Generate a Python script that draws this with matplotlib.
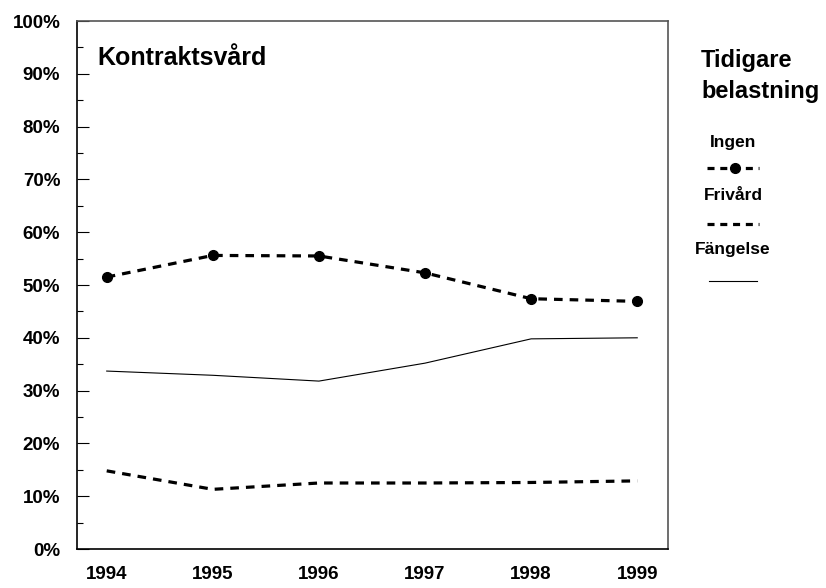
import matplotlib.pyplot as plt
from matplotlib.ticker import MultipleLocator, PercentFormatter

plt.rcParams["font.family"] = ["Liberation Sans", "DejaVu Sans"]
plt.rcParams["font.weight"] = "bold"

YEARS = [1994, 1995, 1996, 1997, 1998, 1999]
INGEN = [51.5, 55.6, 55.5, 52.3, 47.4, 46.9]
FRIVARD = [14.8, 11.3, 12.5, 12.5, 12.6, 12.9]
FANGELSE = [33.7, 32.9, 31.8, 35.2, 39.8, 40.0]

TITLE = "Kontraktsvård"
LEGEND_TITLE = "Tidigare\nbelastning"
LABELS = ["Ingen", "Frivård", "Fängelse"]

fig = plt.figure(figsize=(8.26, 5.88), dpi=100)
ax = fig.add_axes([77 / 826, 1 - 549 / 588, 591 / 826, 528 / 588])

dash = (0, (2.7, 2.2))
ax.plot(YEARS, INGEN, color="black", linewidth=2.3, linestyle=dash,
        dash_capstyle="butt", marker="o", markersize=7)
ax.plot(YEARS, FRIVARD, color="black", linewidth=2.3, linestyle=dash,
        dash_capstyle="butt")
ax.plot(YEARS, FANGELSE, color="black", linewidth=0.8)

ax.set_xlim(1993.72, 1999.29)
ax.set_ylim(0, 100)
ax.set_xticks(YEARS)
ax.yaxis.set_major_locator(MultipleLocator(10))
ax.yaxis.set_minor_locator(MultipleLocator(5))
ax.yaxis.set_major_formatter(PercentFormatter(decimals=0))

ax.tick_params(axis="x", length=0, pad=12, labelsize=13.5)
ax.tick_params(axis="y", which="major", direction="in", length=8.6,
               width=0.8, pad=12, labelsize=13.5)
ax.tick_params(axis="y", which="minor", direction="in", length=4.3,
               width=0.8)
for label in ax.get_xticklabels() + ax.get_yticklabels():
    label.set_fontweight("bold")

for side in ["left", "bottom"]:
    ax.spines[side].set_color("black")
    ax.spines[side].set_linewidth(1.2)
for side in ["top", "right"]:
    ax.spines[side].set_color("#555555")
    ax.spines[side].set_linewidth(1.2)

ax.text(0.034, 0.93, TITLE, transform=ax.transAxes, fontsize=18,
        fontweight="bold", va="center", ha="left")

# legend drawn by hand in figure coords
fig.text(701 / 826, 1 - 76 / 588, LEGEND_TITLE, fontsize=17,
         fontweight="bold", ha="left", va="center", linespacing=1.45)

label_y = [143, 196, 250]
line_y = [168, 224, 281]
cx = 733 / 826
half = 26 / 826
for i, name in enumerate(LABELS):
    fig.text(cx, 1 - label_y[i] / 588, name, fontsize=12.5,
             fontweight="bold", ha="center", va="center")
    yy = 1 - line_y[i] / 588
    if i < 2:
        fig.add_artist(plt.Line2D([cx - half, cx + half], [yy, yy],
                                  color="black", linewidth=2.3,
                                  linestyle=(0, (2.2, 1.8))))
        if i == 0:
            fig.add_artist(plt.Line2D([cx + 2 / 826], [yy], marker="o",
                                      color="black", markersize=7))
    else:
        fig.add_artist(plt.Line2D([cx - half + 2 / 826, cx + half - 2 / 826],
                                  [yy, yy], color="black", linewidth=0.8))

fig.savefig("out.png", dpi=100)
